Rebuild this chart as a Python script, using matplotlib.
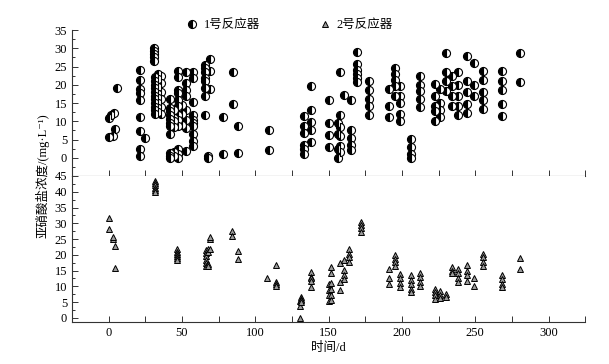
import matplotlib
matplotlib.use("Agg")
import matplotlib.pyplot as plt
from matplotlib.ticker import MultipleLocator
from matplotlib.lines import Line2D
import numpy as np

plt.rcParams['font.family'] = ['Liberation Serif', 'DejaVu Serif', 'Noto Sans CJK SC']

# reactor 1: sampling day -> concentrations measured that day (mg/L)
r1_days = [0, 1.6, 3, 3.4, 4.1, 6.1, 21.6, 25, 31.2, 32, 33.5, 35.5, 42.1, 44.5,
           47.7, 50, 53, 57.3, 66, 67.5, 69, 77.7, 84.8, 88.2, 109.1, 133, 138,
           150, 156.1, 158, 160.2, 165.3, 169.4, 177.3, 190.9, 195, 198.9, 206.2,
           212.1, 222.8, 225.7, 230, 234.1, 238, 244.4, 249.3, 255.3, 268.2, 280.2]
r1_conc = [
    [10.9, 5.7], [11.8], [5.9], [12.3], [7.9], [19.1],
    [24.1, 21.4, 18.8, 17.7, 15.9, 11.3, 7.4, 2.3, 0.4], [5.5],
    [30.0, 29.2, 28.4, 27.5, 26.6],
    [22, 21, 20, 19, 18, 17, 16, 15, 14, 13, 12],
    [23, 21.5, 19.5, 17.5, 16.5, 15, 13.5, 12.5],
    [22.5, 20.5, 18, 16, 14, 12],
    [16.1, 13.6, 12.7, 11.8, 10.6, 9.5, 8.6, 6.4, 1.2, 0.4, 0],
    [13, 11, 10, 8.5, 1.5, 0.5],
    [23.9, 22.1, 18.6, 17.7, 15.9, 14.1, 11.8, 10.4, 8.6, 2.3, 0.9, 0],
    [14.5, 12, 9],
    [23.4, 20.5, 18.6, 16.8, 13.2, 10.4, 8.2, 1.8],
    [23.6, 21.8, 15.4, 11.8, 10.4, 9.5, 8.6, 6.4, 4.5, 3.2],
    [25.4, 24.5, 23.6, 21.8, 20.9, 19.1, 16.8, 11.8],
    [0.4, 0],
    [27.1, 23.9, 18.8],
    [11.3, 1.1], [23.5, 14.7], [8.8, 1.4], [7.5, 2.0],
    [11.5, 8.8, 6.8, 3.6, 2.3, 0.9],
    [19.7, 13.2, 9.8, 7.5, 4.4],
    [15.9, 9.5, 6.1, 2.9],
    [9.4, 6.4, 2.5, 0],
    [23.6, 11.8, 8.3, 5.9, 3.2, 1.5],
    [17.3],
    [15.7, 7.7, 5.3, 3.6, 2.0],
    [29.1, 25.6, 24.1, 23.0, 21.8, 20.7],
    [20.9, 18.6, 16.2, 14.3, 11.8],
    [18.9, 14.1, 11.1],
    [24.7, 23.0, 21.3, 19.7, 17.0],
    [19.7, 17.0, 15.0, 12.1, 10.0],
    [5.2, 2.9, 0.9, 0],
    [22.3, 19.8, 18.2, 16.1, 13.9],
    [20.2, 16.8, 14.3, 12.7, 10.0],
    [18.8, 15.0, 13.2, 11.1],
    [28.6, 23.4, 20.9, 18.2],
    [22.4, 19.7, 17.0, 14.1],
    [23.4, 20.0, 17.0, 14.3, 11.6],
    [27.9, 20.9, 17.9, 14.7, 12.3],
    [25.9, 19.8, 17.0],
    [23.8, 21.4, 18.0, 15.7, 13.4],
    [23.8, 20.9, 18.6, 14.7, 11.5],
    [28.6, 20.7],
]

# reactor 2
r2_days = [0, 3, 4.1, 31.4, 47, 66.4, 67.5, 69, 84.1, 88.2, 108, 114.1, 130.2,
           131.3, 138, 150, 151.8, 158, 160.2, 164.1, 172.1, 190.9, 195, 198.9,
           206.2, 212.1, 222.8, 226.2, 230, 234, 238, 244.4, 249.3, 255.3, 268.2,
           280.2]
r2_conc = [
    [31.6, 28.1], [25.0, 25.5], [22.9, 15.9],
    [43.5, 42.8, 42.0, 41.3, 40.6, 40.0],
    [21.7, 21.0, 20.3, 19.6, 18.9, 18.5],
    [21.5, 20.5, 19.5, 18.5, 17.5, 16.3],
    [22, 21, 17, 16.5],
    [24.9, 25.5, 22.0],
    [27.5, 25.9], [21.3, 18.7],
    [12.5], [16.7, 11.5, 10.9, 10.0],
    [5.3, 3.8, 0], [6.5, 6.0, 5.6, 5.1],
    [14.6, 13.0, 12.5, 11.7, 9.8],
    [10.7, 9.0, 7.2, 5.3],
    [16.0, 14.1, 11.1, 9.3, 7.2, 5.6],
    [17.5, 11.4, 9.0],
    [18.3, 15.1, 13.6, 12.2],
    [21.7, 20.4, 19.2, 17.8],
    [30.5, 29.4, 28.4, 27.3],
    [15.4, 12.5, 10.9],
    [20.1, 18.8, 17.8, 16.4],
    [13.8, 12.5, 11.1, 9.8],
    [13.6, 12.0, 10.7, 9.3, 8.3],
    [14.3, 13.0, 11.4, 10.1],
    [9.3, 8.3, 7.2, 6.0],
    [8.6, 7.2, 6.2],
    [7.7, 6.7],
    [16.0, 14.9, 14.1],
    [15.4, 14.1, 12.8, 11.4],
    [16.7, 14.9, 13.6, 11.7],
    [12.5, 10.1],
    [20.4, 19.2, 17.8, 16.4],
    [13.6, 12.2, 10.9, 9.8],
    [19.0, 15.4],
]

def flatten(days, conc):
    x = np.concatenate([[d] * len(c) for d, c in zip(days, conc)])
    y = np.concatenate([c for c in conc])
    return x, y

x1, y1 = flatten(r1_days, r1_conc)
x2, y2 = flatten(r2_days, r2_conc)

fig = plt.figure(figsize=(6.09, 3.64), dpi=100)
ax1 = fig.add_axes([0.118, 0.5165, 0.843, 0.401])
ax2 = fig.add_axes([0.118, 0.1154, 0.843, 0.4011], sharex=ax1)

circ_style = dict(linestyle='none', marker='o', markersize=5.8, fillstyle='left',
                  markerfacecolor='black', markerfacecoloralt='white',
                  markeredgecolor='black', markeredgewidth=0.8)
tri_style = dict(linestyle='none', marker='^', markersize=4.8,
                 markerfacecolor='#9a9a9a', markeredgecolor='black',
                 markeredgewidth=0.7)

ax1.plot(x1, y1, **circ_style)
ax2.plot(x2, y2, **tri_style)

ax1.set_xlim(-25, 325)
ax1.set_ylim(-5, 35)
ax1.set_yticks(np.arange(0, 36, 5))
ax2.set_ylim(-1.3, 45)
ax2.set_yticks(np.arange(0, 46, 5))
ax2.set_xticks(np.arange(0, 301, 50))

for ax in (ax1, ax2):
    ax.xaxis.set_minor_locator(MultipleLocator(25))
    ax.yaxis.set_minor_locator(MultipleLocator(2.5))
    ax.spines['top'].set_visible(False)
    ax.spines['right'].set_visible(False)
    for s in ('left', 'bottom'):
        ax.spines[s].set_linewidth(0.8)
        ax.spines[s].set_color('#333333')
    ax.tick_params(which='both', direction='in', labelsize=9, width=0.7, color='#333333')
    ax.tick_params(which='major', length=4)
    ax.tick_params(axis='x', which='minor', length=4)
    ax.tick_params(axis='y', which='minor', length=2.5)
ax1.tick_params(axis='x', labelbottom=False)

ax2.set_xlabel('时间/d', fontsize=9, labelpad=2)
fig.text(0.069, 0.516, '亚硝酸盐浓度/(mg·L⁻¹)', rotation=90,
         ha='center', va='center', fontsize=9)

handles = [Line2D([], [], **circ_style), Line2D([], [], **tri_style)]
fig.legend(handles, ['1号反应器', '2号反应器'], loc='center',
           bbox_to_anchor=(0.475, 0.931), ncol=2, frameon=False, fontsize=9,
           handletextpad=0.4, columnspacing=4.7, handlelength=1)

fig.savefig('out.png', dpi=100)
